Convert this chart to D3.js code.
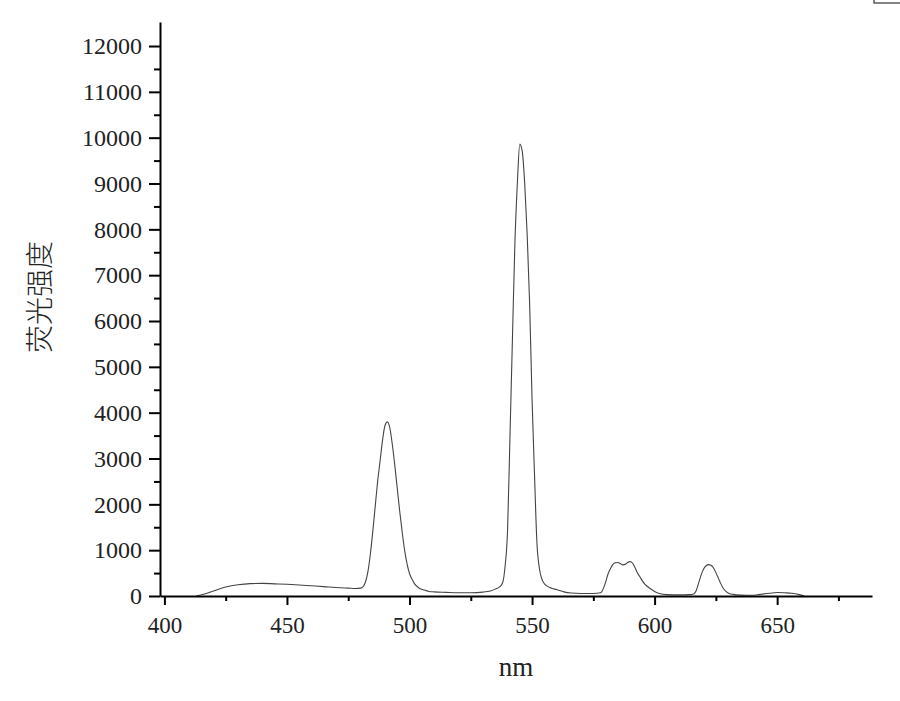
<!DOCTYPE html>
<html><head><meta charset="utf-8">
<script src="https://cdn.jsdelivr.net/npm/d3@7"></script>
<style>
html,body{margin:0;padding:0;background:#fff;}
svg{display:block;}
</style></head>
<body>
<script>
const wavelength = [413,416,420,425,430,435,440,445,450,455,460,465,470,475,478,480,481,482,483,484,485,486,487,488,489,490,491,492,493,494,495,496,497,498,499,500,501,502,504,506,508,510,515,520,525,530,533,535,537,538,539,540,541,542,543,544,545,546,547,548,549,550,551,552,553,554,555,556,558,560,563,566,570,575,578,579,580,581,582,583,584,585,586,587,588,589,590,591,592,593,594,595,596,598,600,602,605,610,614,616,617,618,619,620,621,622,623,624,625,626,627,628,629,630,632,635,640,643,647,650,653,656,659,661];
const intensity = [0,40,110,195,245,270,275,265,255,240,222,205,185,172,165,172,200,300,520,900,1400,1950,2500,2950,3400,3720,3800,3660,3300,2850,2350,1850,1400,1000,700,490,370,270,170,130,100,90,80,72,72,85,110,150,210,290,650,1420,3500,5620,7700,9000,9860,9700,9000,7900,6400,4300,2650,1150,600,370,270,220,170,140,90,65,55,55,70,150,300,480,600,690,725,730,710,680,690,730,750,720,620,500,420,330,260,170,100,55,30,25,30,45,120,290,460,590,660,685,670,615,510,390,270,170,105,65,35,20,15,35,60,75,70,60,30,0];
const xTicks = [400,450,500,550,600,650];
const xMinorTicks = [425,475,525,575,625,675];
const yTicks = [0,1000,2000,3000,4000,5000,6000,7000,8000,9000,10000,11000,12000];
const yMinorTicks = [500,1500,2500,3500,4500,5500,6500,7500,8500,9500,10500,11500];
const xLabel = "nm";
const yLabel = "荧光强度";

const W = 900, H = 701;
const mLeft = 160, mRight = 872, mTop = 22, mBottom = 596;
const svg = d3.select("body").append("svg").attr("width", W).attr("height", H);

const x = d3.scaleLinear().domain([398.2, 688.7]).range([mLeft, mRight]);
const y = d3.scaleLinear().domain([0, 12524]).range([mBottom, mTop]);

const font = "'Liberation Serif', 'Times New Roman', serif";

// curve
const data = wavelength.map((w, i) => [w, intensity[i]]);
svg.append("path")
  .datum(data)
  .attr("fill", "none")
  .attr("stroke", "#444")
  .attr("stroke-width", 1.1)
  .attr("d", d3.line().x(d => x(d[0])).y(d => y(d[1])).curve(d3.curveMonotoneX));

// x axis
const gx = svg.append("g").attr("transform", `translate(0,${mBottom})`);
gx.call(d3.axisBottom(x).tickValues(xTicks).tickSize(9).tickPadding(12).tickSizeOuter(0));
gx.append("g").call(d3.axisBottom(x).tickValues(xMinorTicks).tickSize(5).tickFormat("").tickSizeOuter(0))
  .select(".domain").remove();
gx.selectAll("path.domain").attr("stroke", "#000").attr("stroke-width", 2);
gx.selectAll("line").attr("stroke", "#000").attr("stroke-width", 2);
gx.selectAll("text").attr("font-family", font).attr("font-size", 23).attr("fill", "#222");

// y axis
const gy = svg.append("g").attr("transform", `translate(${mLeft},0)`);
gy.call(d3.axisLeft(y).tickValues(yTicks).tickSize(11).tickPadding(7).tickSizeOuter(0).tickFormat(d3.format("d")));
gy.append("g").call(d3.axisLeft(y).tickValues(yMinorTicks).tickSize(6).tickFormat("").tickSizeOuter(0))
  .select(".domain").remove();
gy.selectAll("path.domain").attr("stroke", "#000").attr("stroke-width", 2);
gy.selectAll("line").attr("stroke", "#000").attr("stroke-width", 2);
gy.selectAll("text").attr("font-family", font).attr("font-size", 24).attr("fill", "#222");

// axis titles
svg.append("text").attr("x", 516).attr("y", 676).attr("text-anchor", "middle")
  .attr("font-family", font).attr("font-size", 27).attr("fill", "#222").text(xLabel);
svg.append("text").attr("transform", "translate(50,297) rotate(-90)").attr("text-anchor", "middle")
  .attr("font-family", "'Noto Sans CJK SC', sans-serif").attr("font-size", 28).attr("font-weight", 300)
  .attr("fill", "#222").text(yLabel);

// clipped legend frame in the corner
svg.append("rect").attr("x", 874).attr("y", -20).attr("width", 40).attr("height", 23)
  .attr("fill", "none").attr("stroke", "#333").attr("stroke-width", 1.2);
</script>
</body></html>
